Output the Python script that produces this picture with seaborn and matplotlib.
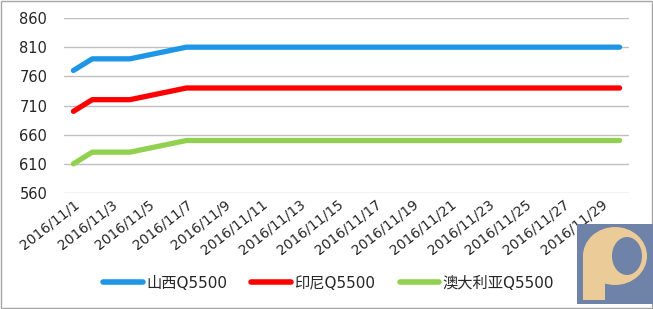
import matplotlib
matplotlib.use("Agg")
import matplotlib.pyplot as plt
import seaborn as sns
import pandas as pd
from matplotlib.patches import Rectangle, Ellipse
from matplotlib.lines import Line2D

# Data (weekday observations, Nov 2016)
dates = ["2016-11-01", "2016-11-02", "2016-11-03", "2016-11-04",
         "2016-11-07", "2016-11-08", "2016-11-09", "2016-11-10", "2016-11-11",
         "2016-11-14", "2016-11-15", "2016-11-16", "2016-11-17", "2016-11-18",
         "2016-11-21", "2016-11-22", "2016-11-23", "2016-11-24", "2016-11-25",
         "2016-11-28", "2016-11-29", "2016-11-30"]
shanxi = [770, 790, 790, 790] + [810] * 18
indonesia = [700, 720, 720, 720] + [740] * 18
australia = [610, 630, 630, 630] + [650] * 18
series_names = ["山西Q5500", "印尼Q5500", "澳大利亚Q5500"]
colors = ["#1E96E6", "#FF0000", "#92D050"]
y_ticks = [560, 610, 660, 710, 760, 810, 860]
x_tick_dates = pd.date_range("2016-11-01", "2016-11-29", freq="2D")

sns.set_theme(style="white")
plt.rcParams["font.family"] = ["DejaVu Sans", "Noto Sans CJK SC"]

df = pd.DataFrame({"date": pd.to_datetime(dates),
                   series_names[0]: shanxi,
                   series_names[1]: indonesia,
                   series_names[2]: australia})
long = df.melt(id_vars="date", var_name="series", value_name="value")

fig = plt.figure(figsize=(6.53, 3.09), dpi=100)
ax = fig.add_axes([64 / 653, 1 - 193 / 309, (629 - 64) / 653, (193 - 18) / 309])

sns.lineplot(data=long, x="date", y="value", hue="series", hue_order=series_names,
             palette=colors, linewidth=3.8, ax=ax, legend=False, estimator=None)

ax.set_ylim(560, 860)
ax.set_yticks(y_ticks)
ax.set_xlim(pd.Timestamp("2016-10-31 12:00"), pd.Timestamp("2016-11-30 12:00"))
ax.set_xticks(x_tick_dates)
ax.set_xticklabels([f"{d.year}/{d.month}/{d.day}" for d in x_tick_dates],
                   rotation=38, ha="right", rotation_mode="anchor", fontsize=10)
ax.tick_params(axis="y", labelsize=10.5, length=0, pad=12)
ax.tick_params(axis="x", length=0, pad=3)
ax.set_xlabel("")
ax.set_ylabel("")
ax.grid(axis="y", color="#BFBFBF", linewidth=1)
for s in ax.spines.values():
    s.set_visible(False)

# Legend
handles = [Line2D([0], [0], color=c, linewidth=4) for c in colors]
fig.legend(handles, series_names, loc="center", bbox_to_anchor=(0.503, 1 - 283 / 309),
           ncol=3, frameon=False, fontsize=11, handlelength=2.6, columnspacing=1.6,
           handletextpad=0.2)

# Figure border
fig.patches.append(Rectangle((0.002, 0.003), 0.996, 0.994, transform=fig.transFigure,
                             fill=False, edgecolor="#A6A6A6", linewidth=1))
# Logo block (bottom-right)
bg = "#6F83A8"
fig.patches.append(Rectangle((577 / 653, 1 - 304 / 309), 76 / 653, 80 / 309,
                             transform=fig.transFigure, facecolor=bg, edgecolor="none"))
fig.patches.append(Ellipse((615 / 653, 1 - 256 / 309), 64 / 653, 58 / 309,
                           transform=fig.transFigure, facecolor="#EBCB98", edgecolor="none"))
fig.patches.append(Rectangle((583 / 653, 1 - 300 / 309), 22 / 653, 45 / 309,
                             transform=fig.transFigure, facecolor="#EBCB98", edgecolor="none"))
fig.patches.append(Ellipse((627 / 653, 1 - 256 / 309), 30 / 653, 38 / 309,
                           transform=fig.transFigure, facecolor=bg, edgecolor="none"))

fig.savefig("out.png", dpi=100)
